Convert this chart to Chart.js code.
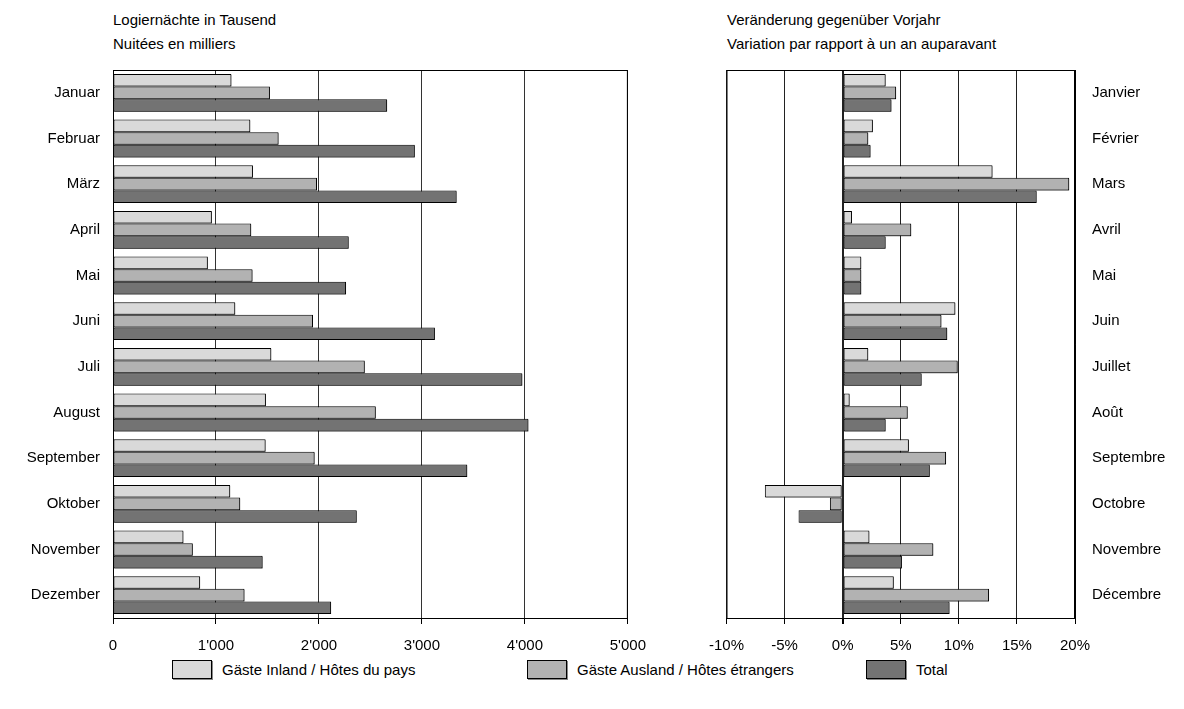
<!DOCTYPE html>
<html>
<head>
<meta charset="utf-8">
<script src="https://cdn.jsdelivr.net/npm/chart.js@4/dist/chart.umd.min.js"></script>
<style>
  body { margin: 0; background: #fff; font-family: "Liberation Sans", Arial, sans-serif; color: #000; }
  .wrap { position: relative; width: 1184px; height: 709px; }
  .title { position: absolute; font-size: 15px; line-height: 24px; }
  #leftBox { position: absolute; left: 0; top: 60px; width: 659px; height: 600px; }
  #rightBox { position: absolute; left: 696px; top: 60px; width: 488px; height: 600px; }
  .legend { position: absolute; top: 660px; font-size: 15px; display: flex; align-items: center; }
  .legend span.box { display: inline-block; width: 38px; height: 17px; border: 1px solid #000; margin-right: 10px; box-shadow: 1px 1px 0 #888; }
</style>
</head>
<body>
<div class="wrap">
  <div class="title" style="left:113px; top:8px;">Logiernächte in Tausend<br>Nuitées en milliers</div>
  <div class="title" style="left:727px; top:8px;">Veränderung gegenüber Vorjahr<br>Variation par rapport à un an auparavant</div>
  <div id="leftBox"><canvas id="leftChart"></canvas></div>
  <div id="rightBox"><canvas id="rightChart"></canvas></div>
  <div class="legend" style="left:172px;"><span class="box" style="background:#d9d9d9"></span>Gäste Inland / Hôtes du pays</div>
  <div class="legend" style="left:527px;"><span class="box" style="background:#b2b2b2"></span>Gäste Ausland / Hôtes étrangers</div>
  <div class="legend" style="left:866px;"><span class="box" style="background:#737373"></span>Total</div>
</div>
<script>
const monthsDe = ["Januar", "Februar", "März", "April", "Mai", "Juni", "Juli", "August", "September", "Oktober", "November", "Dezember"];
const monthsFr = ["Janvier", "Février", "Mars", "Avril", "Mai", "Juin", "Juillet", "Août", "Septembre", "Octobre", "Novembre", "Décembre"];
const seriesNames = ["Gäste Inland / Hôtes du pays", "Gäste Ausland / Hôtes étrangers", "Total"];
const seriesColors = ["#d9d9d9", "#b2b2b2", "#737373"];

// Logiernächte in Tausend
const nightsInland = [1150, 1333, 1359, 960, 921, 1187, 1537, 1485, 1482, 1138, 684, 846];
const nightsAusland = [1524, 1608, 1981, 1342, 1355, 1942, 2445, 2552, 1958, 1235, 775, 1277];
const nightsTotal = [2662, 2931, 3337, 2289, 2263, 3126, 3975, 4034, 3440, 2367, 1453, 2118];

// Veränderung gegenüber Vorjahr in %
const changeInland = [3.7, 2.6, 12.9, 0.8, 1.6, 9.7, 2.2, 0.6, 5.7, -6.7, 2.3, 4.4];
const changeAusland = [4.6, 2.2, 19.5, 5.9, 1.6, 8.5, 9.9, 5.6, 8.9, -1.1, 7.8, 12.6];
const changeTotal = [4.2, 2.4, 16.7, 3.7, 1.6, 9.0, 6.8, 3.7, 7.5, -3.8, 5.1, 9.2];

const nightsTicks = [0, 1000, 2000, 3000, 4000, 5000];
const changeTicks = [-10, -5, 0, 5, 10, 15, 20];

const tickFont = { family: "Liberation Sans", size: 15 };

function fmtThousands(v) {
  if (v < 1000) return String(v);
  const k = Math.floor(v / 1000);
  const r = String(v % 1000).padStart(3, "0");
  return k + "'" + r;
}

const framePlugin = {
  id: "frame",
  beforeDatasetsDraw(chart) {
    const ctx = chart.ctx;
    ctx.save();
    ctx.shadowColor = "rgba(0,0,0,0.45)";
    ctx.shadowOffsetX = 1;
    ctx.shadowOffsetY = 1;
    ctx.shadowBlur = 0;
  },
  afterDatasetsDraw(chart) {
    chart.ctx.restore();
    const a = chart.chartArea;
    const ctx = chart.ctx;
    ctx.save();
    ctx.strokeStyle = "#000";
    ctx.lineWidth = 1;
    ctx.strokeRect(a.left + 0.5, a.top + 0.5, a.right - a.left - 1, a.bottom - a.top);
    ctx.restore();
  },
};

function makeDatasets(a, b, c) {
  return [a, b, c].map((d, i) => ({
    label: seriesNames[i],
    data: d,
    backgroundColor: seriesColors[i],
    borderColor: "#000",
    borderWidth: 1,
    borderSkipped: false,
    categoryPercentage: 0.83,
    barPercentage: 1.0,
  }));
}

const leftChart = new Chart(document.getElementById("leftChart").getContext("2d"), {
  type: "bar",
  data: { labels: monthsDe, datasets: makeDatasets(nightsInland, nightsAusland, nightsTotal) },
  options: {
    indexAxis: "y",
    responsive: true,
    maintainAspectRatio: false,
    animation: false,
    layout: { padding: { top: 10, right: 23, left: 0, bottom: 0 } },
    plugins: { legend: { display: false }, tooltip: { enabled: false } },
    scales: {
      x: {
        min: 0,
        max: 5000,
        afterBuildTicks: (s) => { s.ticks = nightsTicks.map((v) => ({ value: v })); },
        afterFit: (s) => { s.height = 42; },
        ticks: { font: tickFont, color: "#000", padding: 13, maxRotation: 0, callback: (v) => fmtThousands(v) },
        grid: { color: "#333", lineWidth: 1, tickLength: 6, tickColor: "#000" },
        border: { color: "#000" },
      },
      y: {
        afterFit: (s) => { s.width = 113; },
        ticks: { font: tickFont, color: "#000", padding: 0 },
        grid: { display: true, drawOnChartArea: false, drawTicks: true, tickLength: 13, tickColor: "rgba(0,0,0,0)" },
        border: { color: "#000" },
      },
    },
  },
  plugins: [framePlugin],
});

const rightChart = new Chart(document.getElementById("rightChart").getContext("2d"), {
  type: "bar",
  data: { labels: monthsFr, datasets: makeDatasets(changeInland, changeAusland, changeTotal) },
  options: {
    indexAxis: "y",
    responsive: true,
    maintainAspectRatio: false,
    animation: false,
    layout: { padding: { top: 10, right: 0, left: 27, bottom: 0 } },
    plugins: { legend: { display: false }, tooltip: { enabled: false } },
    scales: {
      x: {
        min: -10,
        max: 20,
        afterBuildTicks: (s) => { s.ticks = changeTicks.map((v) => ({ value: v })); },
        afterFit: (s) => { s.height = 42; },
        ticks: { font: tickFont, color: "#000", padding: 13, maxRotation: 0, callback: (v) => v + "%" },
        grid: {
          color: "#222",
          lineWidth: (c) => (c.tick && c.tick.value === 0 ? 2 : 1),
          tickLength: 6,
          tickColor: "#000",
        },
        border: { color: "#000" },
      },
      y: {
        position: "right",
        afterFit: (s) => { s.width = 109; },
        ticks: { font: tickFont, color: "#000", padding: 0 },
        grid: { display: true, drawOnChartArea: false, drawTicks: true, tickLength: 17, tickColor: "rgba(0,0,0,0)" },
        border: { color: "#000" },
      },
    },
  },
  plugins: [framePlugin],
});
</script>
</body>
</html>
